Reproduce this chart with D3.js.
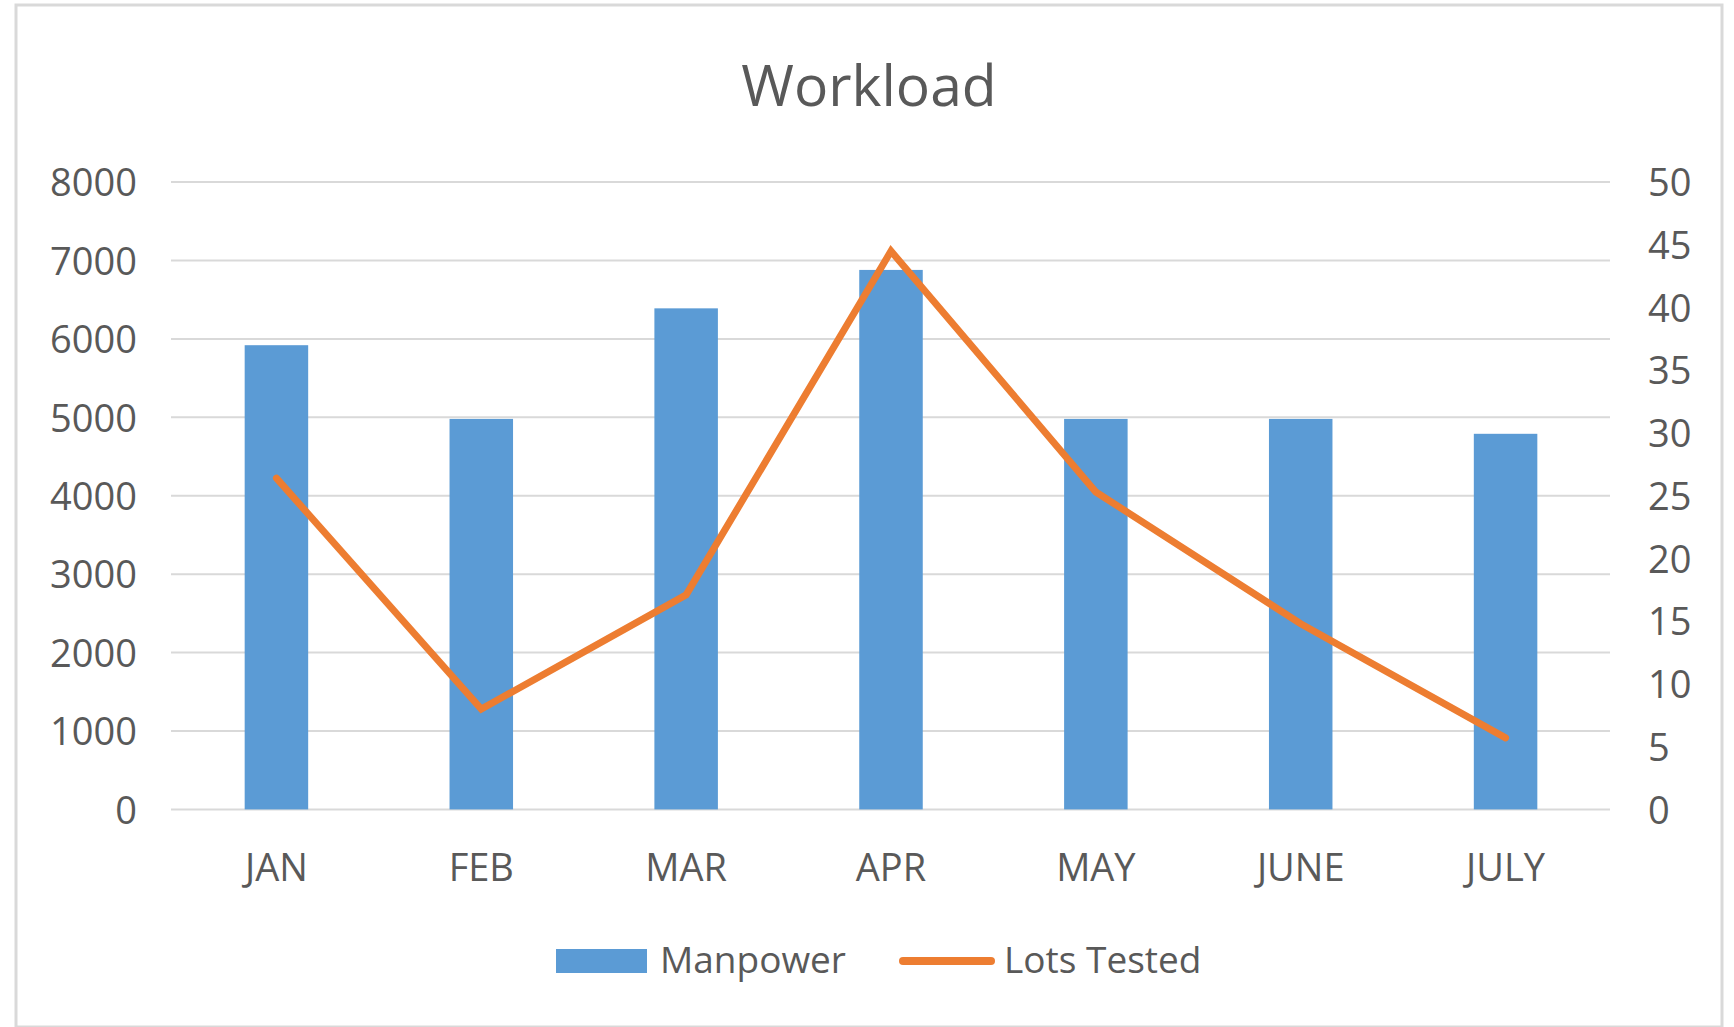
<!DOCTYPE html>
<html>
<head>
<meta charset="utf-8">
<script src="https://cdn.jsdelivr.net/npm/d3@7"></script>
<style>
  body { margin: 0; background: #fff; }
  text { font-family: "Open Sans", sans-serif; fill: #595959; }
</style>
</head>
<body>
<script>
// data
var months = ["JAN", "FEB", "MAR", "APR", "MAY", "JUNE", "JULY"];
var manpower = [5920, 4980, 6390, 6880, 4980, 4980, 4790];
var lotsTested = [26.4, 8, 17.1, 44.5, 25.3, 14.8, 5.7];
var leftTicks = [0, 1000, 2000, 3000, 4000, 5000, 6000, 7000, 8000];
var rightTicks = [0, 5, 10, 15, 20, 25, 30, 35, 40, 45, 50];

var w = 1734;
var h = 1027;
var blue = "#5b9bd5";
var orange = "#ed7d31";

var svg = d3.select("body")
  .append("svg")
  .attr("width", w)
  .attr("height", h);

// chart area border
svg.append("rect")
  .attr("x", 16)
  .attr("y", 5)
  .attr("width", 1706)
  .attr("height", 1022)
  .attr("fill", "none")
  .attr("stroke", "#d9d9d9")
  .attr("stroke-width", 3);

var x = d3.scaleBand()
  .domain(months)
  .range([174, 1608])
  .paddingInner(0.69)
  .paddingOuter(0.345);

var y = d3.scaleLinear().domain([0, 8000]).range([809.4, 182.1]);
var y2 = d3.scaleLinear().domain([0, 50]).range([809.4, 182.1]);

// gridlines
svg.append("g")
  .selectAll("line")
  .data(leftTicks)
  .enter()
  .append("line")
  .attr("x1", 171)
  .attr("x2", 1610)
  .attr("y1", function(d) { return y(d); })
  .attr("y2", function(d) { return y(d); })
  .attr("stroke", "#d9d9d9")
  .attr("stroke-width", 2);

// left axis
var gl = svg.append("g")
  .attr("transform", "translate(171,1.5)")
  .call(d3.axisLeft(y).tickValues(leftTicks).tickFormat(d3.format("d")).tickSize(0).tickPadding(34));
gl.select(".domain").remove();
gl.selectAll("text")
  .attr("font-size", "38px")
  .attr("font-family", "Open Sans")
  .attr("fill", "#595959");

// right axis
var gr = svg.append("g")
  .attr("transform", "translate(1610,1.5)")
  .call(d3.axisRight(y2).tickValues(rightTicks).tickSize(0).tickPadding(38));
gr.select(".domain").remove();
gr.selectAll("text")
  .attr("font-size", "38px")
  .attr("font-family", "Open Sans")
  .attr("fill", "#595959");

// bottom axis
var gb = svg.append("g")
  .attr("transform", "translate(0,809.4)")
  .call(d3.axisBottom(x).tickSize(0));
gb.select(".domain").remove();
gb.selectAll("text")
  .attr("y", 58)
  .attr("dy", "0.35em")
  .attr("font-size", "38px")
  .attr("font-family", "Open Sans")
  .attr("fill", "#595959");

// bars
svg.selectAll("rect.bar")
  .data(manpower)
  .enter()
  .append("rect")
  .attr("class", "bar")
  .attr("x", function(d, i) { return x(months[i]); })
  .attr("y", function(d) { return y(d); })
  .attr("width", x.bandwidth())
  .attr("height", function(d) { return y(0) - y(d); })
  .attr("fill", blue);

// line
var line = d3.line()
  .x(function(d, i) { return x(months[i]) + x.bandwidth() / 2; })
  .y(function(d) { return y2(d); });

svg.append("path")
  .datum(lotsTested)
  .attr("d", line)
  .attr("fill", "none")
  .attr("stroke", orange)
  .attr("stroke-width", 7)
  .attr("stroke-linecap", "round")
  .attr("stroke-linejoin", "miter");

// title
svg.append("text")
  .attr("x", 869)
  .attr("y", 106)
  .attr("text-anchor", "middle")
  .attr("font-size", "57px")
  .text("Workload");

// legend
svg.append("rect")
  .attr("x", 556)
  .attr("y", 949)
  .attr("width", 91)
  .attr("height", 24)
  .attr("fill", blue);
svg.append("text")
  .attr("x", 660)
  .attr("y", 973)
  .attr("font-size", "37px")
  .text("Manpower");

svg.append("line")
  .attr("x1", 903)
  .attr("x2", 991)
  .attr("y1", 961)
  .attr("y2", 961)
  .attr("stroke", orange)
  .attr("stroke-width", 8)
  .attr("stroke-linecap", "round");
svg.append("text")
  .attr("x", 1004)
  .attr("y", 973)
  .attr("font-size", "37px")
  .text("Lots Tested");
</script>
</body>
</html>
